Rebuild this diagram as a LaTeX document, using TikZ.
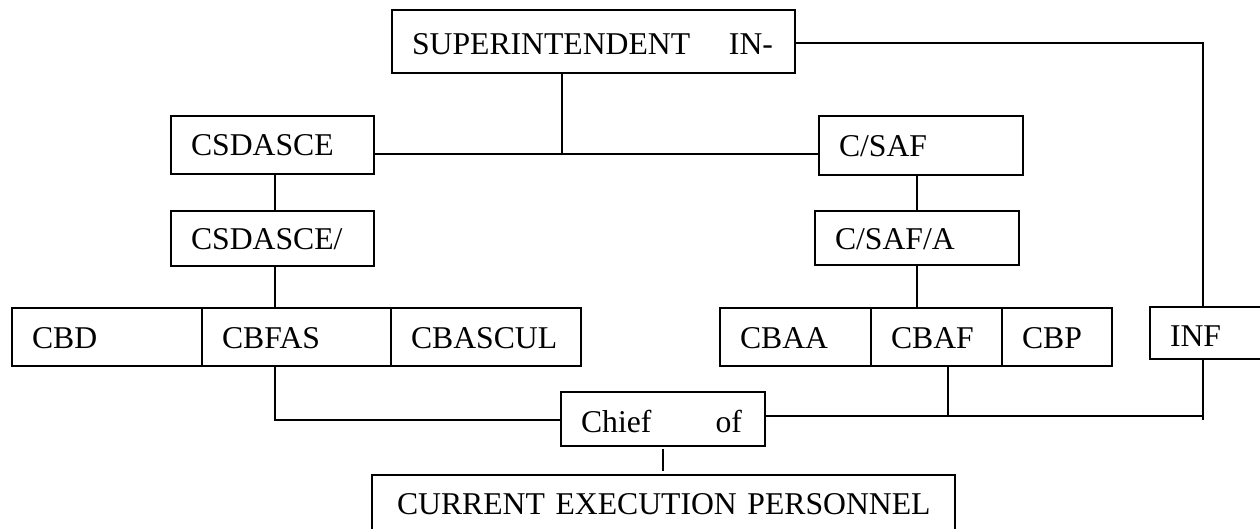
\documentclass[tikz,border=0pt]{standalone}
\usepackage{fontspec}
\setmainfont{Liberation Serif}
\begin{document}
\begin{tikzpicture}[x=1pt,y=1pt,
  box/.style={draw, line width=1.6pt, inner xsep=20pt, inner ysep=0pt, align=left,
    text height=22pt, text depth=0pt, font=\fontsize{31.7}{38}\selectfont},
  conn/.style={line width=1.6pt}]
\useasboundingbox (0,0) rectangle (1260,-529);
% boxes
\node[box, minimum width=403pt, minimum height=63pt, text width=363pt, text height=27pt] (sup) at (593.5,-41.5) {\makebox[361pt]{SUPERINTENDENT\hfill IN-}};
\node[box, minimum width=203pt, minimum height=58pt, text width=163pt] (csd) at (272.5,-145) {CSDASCE};
\node[box, minimum width=203pt, minimum height=55pt, text width=163pt] (csd2) at (272.5,-238.5) {CSDASCE/};
\node[box, minimum width=204pt, minimum height=59pt, text width=164pt] (saf) at (921,-145.5) {C/SAF};
\node[box, minimum width=204pt, minimum height=54pt, text width=164pt, text height=24pt] (safa) at (917,-238) {C/SAF/A};
\node[box, minimum width=190pt, minimum height=58pt, text width=150pt] (cbd) at (107,-337) {CBD};
\node[box, minimum width=189pt, minimum height=58pt, text width=149pt] (cbfas) at (296.5,-337) {CBFAS};
\node[box, minimum width=190pt, minimum height=58pt, text width=150pt] (cbascul) at (486,-337) {CBASCUL};
\node[box, minimum width=151pt, minimum height=58pt, text width=111pt] (cbaa) at (795.5,-337) {CBAA};
\node[box, minimum width=131pt, minimum height=58pt, text width=91pt] (cbaf) at (936.5,-337) {CBAF};
\node[box, minimum width=110pt, minimum height=58pt, text width=70pt] (cbp) at (1057,-337) {CBP};
\node[box, minimum width=116pt, minimum height=52pt, text width=76pt, text height=26pt] (inf) at (1208,-333) {INF};
\node[box, minimum width=204pt, minimum height=54pt, text width=164pt, text height=26pt] (chief) at (663,-419) {\makebox[161pt]{Chief\hfill of}};
\node[box, minimum width=583pt, minimum height=56pt, inner xsep=25pt, text width=533pt] (cur) at (663.5,-503) {\makebox[533pt][l]{CURRENT EXECUTION PERSONNEL}};
% helper coordinates
\coordinate (j1) at (562,-154);
\coordinate (rx) at (1203,-43);
\coordinate (b) at (1203,-416);
\coordinate (cf) at (948,-416);
\coordinate (lx) at (275,-420);
% connectors
\draw[conn] (sup.south -| j1) -- (j1);
\draw[conn] (csd.east |- j1) -- (saf.west |- j1);
\draw[conn] (csd.south -| lx) -- (csd2.north -| lx);
\draw[conn] (csd2.south -| lx) -- (cbfas.north -| lx);
\draw[conn] (safa.north) -- (safa.north |- saf.south);
\draw[conn] (safa.south) -- (safa.south |- cbaf.north);
\draw[conn] (sup.east |- rx) -- (rx) -- (rx |- inf.north);
\draw[conn] (cbfas.south -| lx) -- (lx) -- (chief.west |- lx);
\draw[conn] (chief.east |- b) -- (b);
\draw[conn] (rx |- inf.south) -- ([yshift=-4pt]b);
\draw[conn] (cf |- cbaf.south) -- (cf);
\draw[conn, shorten <=2pt, shorten >=3pt] (chief.south) -- (chief.south |- cur.north);
\end{tikzpicture}
\end{document}
